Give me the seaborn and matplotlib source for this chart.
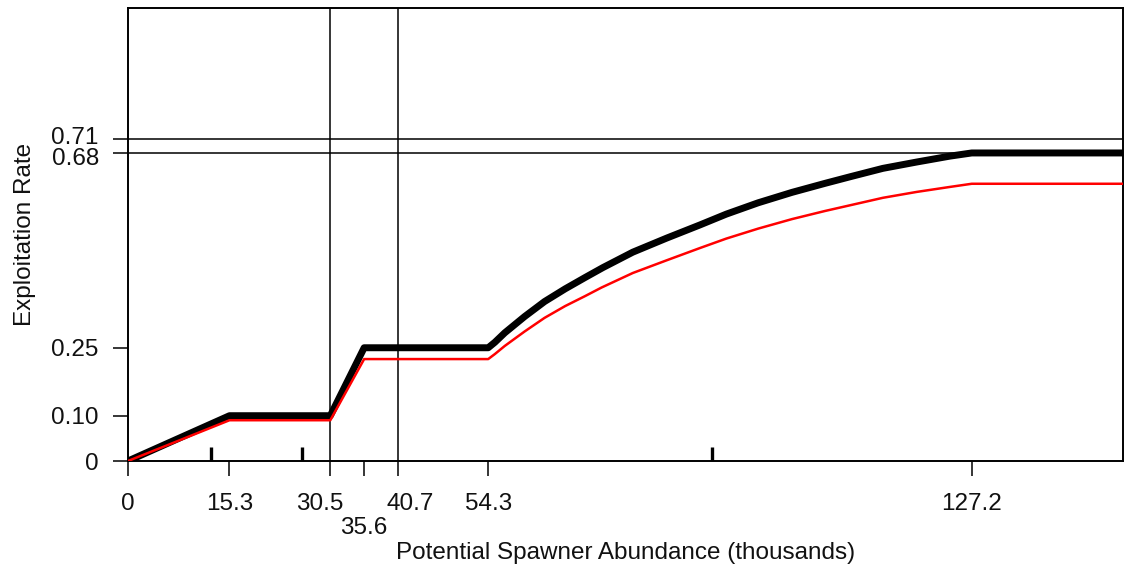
import matplotlib
matplotlib.use("Agg")
import matplotlib.pyplot as plt
import matplotlib.transforms as mtransforms
import seaborn as sns
import numpy as np
import pandas as pd

# Data
black_x = [0, 15.3, 30.5, 35.6, 54.3, 55.3, 56.8, 59.8, 62.8, 65.9, 68.9, 71.6, 76.1, 81.2,
           86.2, 90.2, 95.0, 100.1, 105.1, 109.0, 113.8, 118.9, 123.9, 127.2, 150]
black_y = [0, 0.10, 0.10, 0.25, 0.25, 0.262, 0.283, 0.319, 0.352, 0.380, 0.405, 0.427, 0.461, 0.492,
           0.521, 0.545, 0.570, 0.593, 0.613, 0.628, 0.646, 0.660, 0.673, 0.68, 0.68]
red_x = [0, 15.3, 30.5, 35.6, 54.3, 55.3, 56.8, 59.8, 62.8, 65.9, 68.9, 71.4, 76.1, 81.2,
         86.2, 90.2, 95.0, 100.1, 105.1, 109.0, 113.8, 118.9, 123.9, 127.2, 150]
red_y = [0, 0.09, 0.09, 0.225, 0.225, 0.236, 0.254, 0.286, 0.316, 0.342, 0.364, 0.383, 0.415, 0.443,
         0.470, 0.491, 0.513, 0.534, 0.552, 0.565, 0.581, 0.594, 0.605, 0.612, 0.612]
vlines_x = [30.5, 40.7]
hlines_y = [0.71, 0.68]
rug_x = [12.5, 26.3, 88.0]
xtick_vals = [0, 15.3, 30.5, 35.6, 40.7, 54.3, 127.2]
xtick_labels = ["0", "15.3", "30.5", "35.6", "40.7", "54.3", "127.2"]
ytick_vals = [0, 0.10, 0.25, 0.68, 0.71]
ytick_labels = ["0", "0.10", "0.25", "0.68", "0.71"]

sns.set_theme(style="white")
plt.rcParams['font.family'] = ['Liberation Sans', 'DejaVu Sans']

fig = plt.figure(figsize=(11.25, 5.7), dpi=100)
ax = fig.add_axes([128/1125, 1 - 461/570, (1123-128)/1125, (461-8)/570])

for v in vlines_x:
    ax.axvline(v, color="black", lw=1.1, zorder=1)
for h in hlines_y:
    ax.axhline(h, color="black", lw=1.1, zorder=1)

sns.lineplot(x=black_x, y=black_y, ax=ax, color="black", lw=5, sort=False, estimator=None, zorder=3)
sns.lineplot(x=red_x, y=red_y, ax=ax, color="red", lw=1.8, sort=False, estimator=None, zorder=4)
sns.rugplot(x=rug_x, ax=ax, height=0.031, color="black", linewidth=2.4, expand_margins=False)

ax.set_xlim(0, 150)
ax.set_ylim(0, 1)
ax.set_xticks(xtick_vals)
ax.set_xticklabels(xtick_labels)
ax.set_yticks(ytick_vals)
ax.set_yticklabels(ytick_labels)
ax.tick_params(axis="both", direction="out", length=10.5, width=1.1, color="black",
               labelsize=17.5, labelcolor="#111111", bottom=True, left=True)
ax.tick_params(axis="x", pad=12.5)
ax.tick_params(axis="y", pad=10.5)

# offsets for crowded labels (pixels -> inches at dpi 100)
x_off = {"30.5": (-11, 0), "40.7": (12, 0), "35.6": (0, -24)}
for lab in ax.get_xticklabels():
    t = lab.get_text()
    if t in x_off:
        dx, dy = x_off[t]
        lab.set_transform(lab.get_transform() + mtransforms.ScaledTranslation(dx/100, dy/100, fig.dpi_scale_trans))
y_off = {"0.71": 3.5, "0.68": -4}
for lab in ax.get_yticklabels():
    t = lab.get_text()
    if t in y_off:
        lab.set_transform(lab.get_transform() + mtransforms.ScaledTranslation(0, y_off[t]/100, fig.dpi_scale_trans))

for s in ax.spines.values():
    s.set_visible(True)
    s.set_color("black")
    s.set_linewidth(1.4)

ax.set_xlabel("Potential Spawner Abundance (thousands)", fontsize=17.5, color="#111111")
ax.set_ylabel("Exploitation Rate", fontsize=17.5, color="#111111")
ax.xaxis.set_label_coords(0.5, (461-553)/453)
ax.xaxis.label.set_verticalalignment("center")
ax.yaxis.set_label_coords((25-128)/995, 0.5)
ax.yaxis.label.set_verticalalignment("center")
ax.grid(False)

fig.savefig("out.png", dpi=100)
